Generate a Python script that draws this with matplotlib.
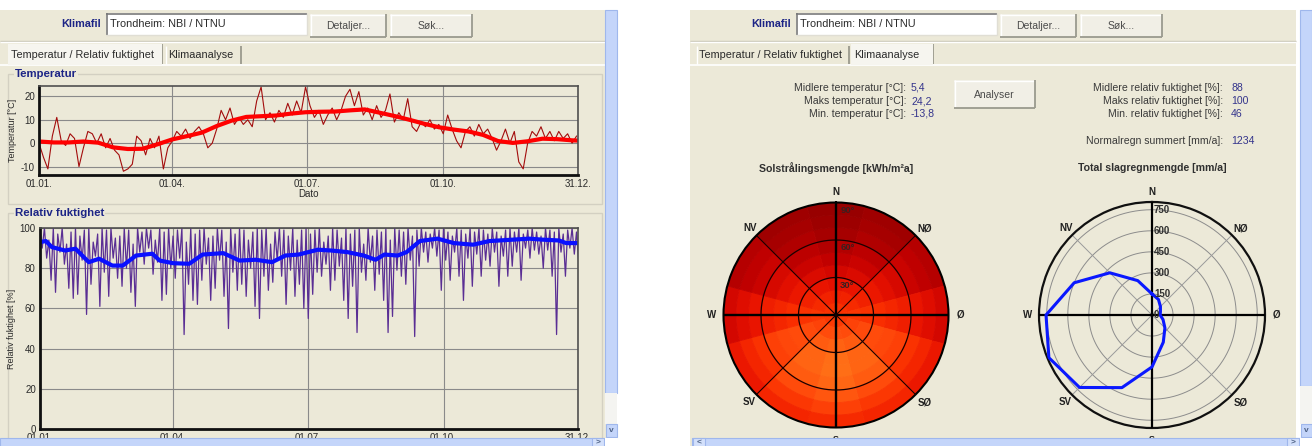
import numpy as np
import matplotlib
matplotlib.use("Agg")
import matplotlib.pyplot as plt
from matplotlib.patches import Rectangle
from matplotlib.colors import LinearSegmentedColormap, Normalize

# ---------------- data ----------------
month_tick_days = [0, 90, 181, 273, 364]
month_tick_labels = ["01.01.", "01.04.", "01.07.", "01.10.", "31.12."]

# daily temperature sampled every 3 days (deg C)
temp_raw = [0, -6, -11, 3, 11, 1, -1, 4, 2, -10, -2, 5, 4, 0, 4, -2, 2, -3, -5, -12,
            -11, -9, 3, 1, -5, 2, -2, 3, -11, -2, 1, 5, 3, 6, 2, 5, 7, 4, -2, 0,
            6, 14, 10, 15, 8, 11, 8, 10, 7, 18, 24, 10, 13, 9, 14, 11, 17, 12, 18, 13,
            24, 16, 11, 14, 8, 12, 15, 10, 14, 20, 23, 16, 22, 12, 15, 10, 16, 11, 14, 21,
            9, 13, 10, 19, 7, 5, 9, 7, 10, 6, 8, 4, 12, 6, 1, -2, 5, 7, 3, 8,
            4, 6, 2, -3, 1, 6, 0, 5, -8, -11, 0, 5, 3, 7, 2, 5, 1, 5, 2, 4,
            0, 3]
temp_smooth_days = [0, 10, 20, 30, 40, 50, 60, 70, 80, 90, 100, 110, 120, 130, 140, 150, 160, 170, 180,
                    190, 200, 210, 220, 230, 240, 250, 260, 270, 280, 290, 300, 310, 320, 330, 340, 350, 360, 364]
temp_smooth = [0.7, 0.3, 0.3, 0.7, 0.2, -1.8, -2.5, -2.4, -0.5, 1.6, 3.0, 4.5, 7.3, 9.6, 11.2, 11.5, 11.8, 12.6, 13.2,
               13.4, 13.5, 14.0, 14.4, 13.0, 11.6, 10.0, 8.3, 6.8, 5.8, 5.0, 3.5, 0.9, 0.1, 0.8, 1.9, 1.7, 1.2, 1.1]

# relative humidity: highs and lows in 3-day steps (%)
rh_high = [99, 100, 94, 100, 97, 100, 92, 98, 100, 96, 99, 100, 93, 97, 100, 99, 100, 95, 96, 100,
           99, 92, 100, 98, 100, 99, 94, 100, 98, 100, 96, 99, 100, 93, 100, 97, 99, 100, 95, 96,
           100, 99, 93, 100, 97, 100, 99, 94, 98, 100, 99, 100, 92, 98, 100, 99, 96, 100, 94, 99,
           100, 97, 99, 100, 93, 96, 100, 99, 95, 100, 97, 99, 100, 92, 100, 96, 99, 98, 100, 94,
           100, 99, 98, 100, 96, 99, 100, 98, 97, 100, 99, 100, 98, 96, 100, 99, 97, 100, 98, 100,
           99, 97, 100, 98, 96, 99, 100, 98, 100, 97, 99, 100, 98, 96, 100, 99, 98, 100, 97, 99,
           100, 98]
rh_low = [90, 85, 74, 68, 88, 82, 70, 65, 67, 84, 57, 72, 86, 61, 78, 66, 85, 75, 71, 80,
          68, 61, 88, 82, 90, 77, 83, 64, 67, 80, 75, 85, 47, 72, 64, 62, 74, 82, 64, 70,
          84, 66, 50, 78, 69, 72, 66, 80, 61, 55, 76, 69, 73, 84, 76, 62, 79, 66, 72, 60,
          55, 67, 78, 76, 82, 69, 74, 81, 64, 55, 71, 48, 78, 74, 83, 69, 77, 64, 48, 56,
          79, 76, 72, 84, 46, 81, 88, 83, 90, 86, 69, 84, 74, 88, 76, 64, 85, 71, 87, 76,
          84, 81, 88, 71, 86, 76, 81, 88, 74, 90, 85, 89, 87, 80, 89, 76, 47, 88, 76, 90,
          87, 83]
rh_smooth_days = [0, 4, 8, 17, 24, 33, 40, 49, 56, 65, 76, 81, 90, 101, 110, 124, 135, 146, 157, 166,
                  175, 188, 197, 208, 219, 227, 233, 242, 248, 257, 269, 280, 293, 304, 320, 331, 340,
                  351, 356, 364]
rh_smooth = [93, 93.5, 90.5, 88.8, 89.7, 83, 84.7, 81.3, 81.3, 86.3, 87.2, 83.8, 82.5, 82.2, 86.8, 87.5,
             83.8, 84.2, 83, 86.3, 86.8, 89.2, 88.8, 88, 86.3, 84.2, 86.8, 86.3, 88, 93.5, 94.7, 92.5,
             91.7, 93.5, 94.2, 94.7, 94.2, 93.8, 92.5, 92.5]

# solar radiation by tilt band (rows, 0-10 .. 80-90 deg) and azimuth (cols, N clockwise) kWh/m2a
sol_azimuths = [0, 30, 60, 90, 120, 150, 180, 210, 240, 270, 300, 330]
sol_tilt_edges = [0, 10, 20, 30, 40, 50, 60, 70, 80, 90]
sol_values = [
    [770, 775, 785, 795, 805, 812, 815, 812, 805, 795, 785, 775],
    [705, 720, 755, 800, 840, 865, 872, 865, 840, 800, 755, 720],
    [630, 655, 715, 790, 860, 905, 920, 905, 860, 790, 715, 655],
    [550, 585, 670, 770, 865, 925, 945, 925, 865, 770, 670, 585],
    [470, 510, 620, 740, 855, 925, 948, 925, 855, 740, 620, 510],
    [400, 445, 565, 700, 830, 905, 930, 905, 830, 700, 565, 445],
    [345, 390, 510, 655, 790, 865, 890, 865, 790, 655, 510, 390],
    [305, 345, 460, 605, 735, 805, 830, 805, 735, 605, 460, 345],
    [280, 315, 415, 550, 670, 735, 755, 735, 670, 550, 415, 315],
]

# driving rain per direction (N clockwise, 22.5 deg steps) mm/a
rain_dirs = [0, 22.5, 45, 67.5, 90, 112.5, 135, 157.5, 180, 202.5, 225, 247.5, 270, 292.5, 315, 337.5]
rain_vals = [150, 120, 85, 65, 58, 85, 130, 210, 370, 560, 730, 795, 755, 600, 425, 265]
rain_rings = [150, 300, 450, 600, 750]

stats_left = [("Midlere temperatur [°C]:", "5,4"), ("Maks temperatur [°C]:", "24,2"),
              ("Min. temperatur [°C]:", "-13,8")]
stats_right = [("Midlere relativ fuktighet [%]:", "88"), ("Maks relativ fuktighet [%]:", "100"),
               ("Min. relativ fuktighet [%]:", "46")]

# ---------------- figure ----------------
plt.rcParams['font.family'] = ['Liberation Sans', 'DejaVu Sans']
plt.rcParams['axes.unicode_minus'] = False
W, H = 1312, 446
fig = plt.figure(figsize=(W / 100, H / 100), dpi=100)
fig.patch.set_facecolor('white')
BEIGE = '#ECE9D8'
NAVY = '#1C2486'
DARK = '#2A2A2A'


def ax_px(x0, y0, x1, y1, **kw):
    return fig.add_axes([x0 / W, 1 - y1 / H, (x1 - x0) / W, (y1 - y0) / H], **kw)


bg = fig.add_axes([0, 0, 1, 1], zorder=-10)
bg.set_xlim(0, W); bg.set_ylim(H, 0); bg.axis('off')


def hline(ax, x0, x1, y, c, lw=1.0):
    ax.plot([x0, x1], [y, y], color=c, lw=lw, solid_capstyle='butt')


def vline(ax, x, y0, y1, c, lw=1.0):
    ax.plot([x, x], [y0, y1], color=c, lw=lw, solid_capstyle='butt')


def button(x0, y0, x1, y1, label):
    bg.add_patch(Rectangle((x0, y0), x1 - x0, y1 - y0, fc='#F1EFE6', ec='none'))
    hline(bg, x0, x1, y0 + 0.5, '#FFFFFF'); vline(bg, x0 + 0.5, y0, y1, '#FFFFFF')
    hline(bg, x0, x1, y1 - 0.5, '#9A9A8E', 1.3); vline(bg, x1 - 0.5, y0, y1, '#9A9A8E', 1.3)
    bg.text((x0 + x1) / 2, (y0 + y1) / 2 + 0.5, label, ha='center', va='center', fontsize=7.5, color='#4A4A4A')


def panel_chrome(dx, right_selected):
    bg.add_patch(Rectangle((dx, 10), 606, 436, fc=BEIGE, ec='none'))
    bg.text(dx + 101, 24, "Klimafil", ha='right', va='center', fontsize=7.8, fontweight='bold', color=NAVY)
    bg.add_patch(Rectangle((dx + 106, 13), 201, 22, fc='white', ec='none'))
    hline(bg, dx + 106, dx + 307, 13.5, '#7A7A7A', 1.2); vline(bg, dx + 106.5, 13, 35, '#7A7A7A', 1.2)
    hline(bg, dx + 106, dx + 307, 34.5, '#E0DED4'); vline(bg, dx + 306.5, 13, 35, '#E0DED4')
    bg.text(dx + 110, 24, "Trondheim: NBI / NTNU", ha='left', va='center', fontsize=7.8, color=DARK)
    button(dx + 310, 14, dx + 386, 37, "Detaljer...")
    button(dx + 390, 14, dx + 472, 37, "Søk...")
    hline(bg, dx, dx + 606, 40.5, '#C9C6B6'); hline(bg, dx, dx + 606, 41.5, '#FFFFFF')
    hline(bg, dx, dx + 606, 64.5, '#FFFFFF', 1.2)
    tabs = [(8, 162, "Temperatur / Relativ fuktighet"), (165, 241, "Klimaanalyse")]
    if right_selected:
        tabs = [(6, 159, "Temperatur / Relativ fuktighet"), (161, 243, "Klimaanalyse")]
    for k, (a, b, lab) in enumerate(tabs):
        sel = (k == 1) == right_selected
        top = 44 if sel else 46
        if sel:
            bg.add_patch(Rectangle((dx + a, top), b - a, 65 - top, fc='#F6F5EF', ec='none', zorder=3))
            hline(bg, dx + a, dx + b, top + 0.5, '#FFFFFF')
        vline(bg, dx + a + 0.5, top, 64, '#FFFFFF')
        vline(bg, dx + b - 0.5, top, 64, '#8C8C80', 1.1)
        bg.text(dx + a + 3, 55, lab, ha='left', va='center', fontsize=7.8, color=DARK, zorder=4)


panel_chrome(0, False)
panel_chrome(690, True)


def group_box(x0, y0, x1, y1, label):
    bg.add_patch(Rectangle((x0, y0), x1 - x0, y1 - y0, fc='none', ec='#D3D0C2', lw=1))
    bg.text(x0 + 7, y0, label, ha='left', va='center', fontsize=8.2, fontweight='bold', color=NAVY,
            bbox=dict(fc=BEIGE, ec='none', pad=0.5))


group_box(8, 74, 602, 204, "Temperatur")
group_box(8, 213, 602, 460, "Relativ fuktighet")


def style_ts(ax):
    ax.set_facecolor(BEIGE)
    ax.set_xlim(0, 364)
    ax.set_xticks(month_tick_days)
    ax.set_xticklabels(month_tick_labels)
    ax.grid(True, color='#8A8A8A', lw=0.8)
    ax.set_axisbelow(True)
    ax.tick_params(length=0, labelsize=7, colors=DARK, pad=3)
    for s in ('left', 'bottom'):
        ax.spines[s].set_linewidth(2.0); ax.spines[s].set_color('#101010')
    for s in ('top', 'right'):
        ax.spines[s].set_linewidth(1.2); ax.spines[s].set_color('#505050')


# temperature
axT = ax_px(39, 86, 578, 175)
style_ts(axT)
axT.set_ylim(-13.6, 24.4)
axT.set_yticks([-10, 0, 10, 20])
temp_days = np.arange(0, 364, 3)[:len(temp_raw)]
axT.plot(temp_days, temp_raw[:len(temp_days)], color='#A30C0C', lw=0.8)
axT.plot(temp_smooth_days, temp_smooth, color='#FF0000', lw=3.0, solid_capstyle='round')
axT.set_ylabel("Temperatur [°C]", fontsize=6.5, color=DARK, labelpad=3)
axT.set_xlabel("Dato", fontsize=7, color=DARK, labelpad=0)

# humidity
axH = ax_px(40, 228, 578, 429)
style_ts(axH)
axH.set_ylim(0, 100)
axH.set_yticks([0, 20, 40, 60, 80, 100])
n = min(len(rh_high), len(rh_low))
d_hi = np.arange(n) * 3.0
d_lo = d_hi + 1.5
xs = np.column_stack([d_hi, d_lo]).ravel()
ys = np.column_stack([rh_high[:n], rh_low[:n]]).ravel()
axH.plot(xs, ys, color='#5A2E94', lw=0.9)
axH.plot(rh_smooth_days, rh_smooth, color='#0A10FF', lw=3.0, solid_capstyle='round')
axH.set_ylabel("Relativ fuktighet [%]", fontsize=6.5, color=DARK, labelpad=3)

# ---------------- right panel text ----------------
for k, (lab, val) in enumerate(stats_left):
    y = 88 + 13 * k
    bg.text(906, y, lab, ha='right', va='center', fontsize=7.6, color='#3A3A3A')
    bg.text(911, y, val, ha='left', va='center', fontsize=7.6, color='#34348C')
for k, (lab, val) in enumerate(stats_right):
    y = 88 + 13 * k
    bg.text(1223, y, lab, ha='right', va='center', fontsize=7.6, color='#3A3A3A')
    bg.text(1231, y, val, ha='left', va='center', fontsize=7.6, color='#34348C')
bg.text(1223, 141, "Normalregn summert [mm/a]:", ha='right', va='center', fontsize=7.6, color='#3A3A3A')
bg.text(1231, 141, "1234", ha='left', va='center', fontsize=7.6, color='#34348C')
button(954, 80, 1035, 108, "Analyser")

bg.text(836, 168, "Solstrålingsmengde [kWh/m²a]", ha='center', va='center', fontsize=7.6,
        fontweight='bold', color='#303030')
bg.text(1152, 168, "Total slagregnmengde [mm/a]", ha='center', va='center', fontsize=7.6,
        fontweight='bold', color='#303030')
# bottom "S" labels (mostly hidden behind the scrollbar, as in the original)
for cx in (836, 1152):
    bg.text(cx, 440, "S", ha='center', va='center', fontsize=6.5, fontweight='bold', color='#202020')

# ---------------- polar: solar ----------------
cmap = LinearSegmentedColormap.from_list('sol', [(0, '#980000'), (0.3, '#C40000'), (0.55, '#E81200'),
                                                  (0.75, '#FA3000'), (0.88, '#FF4C0C'), (1, '#FF6E16')])
norm = Normalize(280, 950)
circ = np.linspace(0, 2 * np.pi, 361)

axS = ax_px(723.5, 202.5, 948.5, 427.5, projection='polar')
axS.set_theta_zero_location('N'); axS.set_theta_direction(-1)
for i, row in enumerate(sol_values):
    for j, v in enumerate(row):
        c = cmap(norm(v))
        axS.bar(np.radians(sol_azimuths[j]), sol_tilt_edges[i + 1] - sol_tilt_edges[i],
                width=np.radians(30), bottom=sol_tilt_edges[i], color=c,
                edgecolor=c, linewidth=0.6, align='center')
axS.set_ylim(0, 90)
axS.grid(False); axS.set_xticks([]); axS.set_yticks([])
axS.spines['polar'].set_linewidth(1.5); axS.spines['polar'].set_color('black')
axS.set_facecolor(BEIGE)
for r in (30, 60):
    axS.plot(circ, np.full_like(circ, r), color='#1A0000', lw=0.9, zorder=5)
for a in (0, 90, 180, 270):
    axS.plot([np.radians(a)] * 2, [0, 90], color='black', lw=1.7, zorder=6)
for a in (45, 135, 225, 315):
    axS.plot([np.radians(a)] * 2, [0, 90], color='#1A0000', lw=0.8, zorder=6)
for r in (30, 60, 90):
    axS.annotate(f"{r}°", xy=(0, r), xytext=(3, -5.5), textcoords='offset points', ha='left',
                 va='center', fontsize=6.8, fontweight='bold', color='#3A2020', zorder=7)

# ---------------- polar: rain ----------------
axR = ax_px(1039, 202, 1265, 428, projection='polar')
axR.set_theta_zero_location('N'); axR.set_theta_direction(-1)
axR.set_facecolor(BEIGE)
axR.set_ylim(0, 805)
axR.grid(False); axR.set_xticks([]); axR.set_yticks([])
axR.spines['polar'].set_linewidth(1.6); axR.spines['polar'].set_color('#101010')
for r in rain_rings:
    axR.plot(circ, np.full_like(circ, r), color='#8C8C8C', lw=0.7, zorder=2)
for a in (45, 135, 225, 315):
    axR.plot([np.radians(a)] * 2, [0, 805], color='#9A9A9A', lw=0.7, zorder=2)
for a in (0, 90, 180, 270):
    axR.plot([np.radians(a)] * 2, [0, 805], color='black', lw=1.6, zorder=3)
th = np.radians(rain_dirs + rain_dirs[:1])
axR.plot(th, rain_vals + rain_vals[:1], color='#0A18FF', lw=2.2, zorder=4)
for r in [0] + rain_rings:
    axR.annotate(str(r), xy=(0, r), xytext=(1.5, 0), textcoords='offset points', ha='left',
                 va='center', fontsize=7, fontweight='bold', color='#303030', zorder=6)

# ---------------- overlay: compass labels & scrollbars ----------------
ov = fig.add_axes([0, 0, 1, 1], zorder=10)
ov.set_xlim(0, W); ov.set_ylim(H, 0); ov.axis('off'); ov.patch.set_alpha(0)

for cx in (836, 1152):
    for lab, x, y in [("N", cx, 192), ("NV", cx - 86, 228), ("NØ", cx + 89, 228), ("W", cx - 124, 315),
                      ("Ø", cx + 124, 315), ("SV", cx - 87, 402), ("SØ", cx + 89, 402)]:
        ov.text(x, y, lab, ha='center', va='center', fontsize=7, fontweight='bold', color='#202020')

SB = '#C4D5FA'
SBE = '#9FB7EC'


def scrollbars(xv, x0h, x1h, thumb_end, left_btn):
    ov.add_patch(Rectangle((xv, 10), 12, thumb_end - 10, fc=SB, ec=SBE, lw=0.8))
    ov.add_patch(Rectangle((xv, thumb_end), 12, 424 - thumb_end, fc='#F4F4F1', ec='none'))
    ov.add_patch(Rectangle((xv + 0.5, 424), 11, 13, fc=SB, ec=SBE, lw=0.8))
    ov.text(xv + 6, 430, "v", ha='center', va='center', fontsize=6, color='#4D6185', fontweight='bold')
    ov.add_patch(Rectangle((x0h, 438), x1h - x0h, 9, fc=SB, ec=SBE, lw=0.8))
    ov.add_patch(Rectangle((x1h - 13, 438), 12, 9, fc='#D3E0FB', ec=SBE, lw=0.8))
    ov.text(x1h - 7, 443, ">", ha='center', va='center', fontsize=6, color='#4D6185', fontweight='bold')
    if left_btn:
        ov.add_patch(Rectangle((x0h + 1, 438), 12, 9, fc='#D3E0FB', ec=SBE, lw=0.8))
        ov.text(x0h + 7, 443, "<", ha='center', va='center', fontsize=6, color='#4D6185', fontweight='bold')
    ov.add_patch(Rectangle((xv, 438), 12, 9, fc='white', ec='none'))


scrollbars(605, 0, 605, 393, False)
scrollbars(1300, 692, 1300, 386, True)

fig.savefig("out.png", dpi=100, facecolor='white')
